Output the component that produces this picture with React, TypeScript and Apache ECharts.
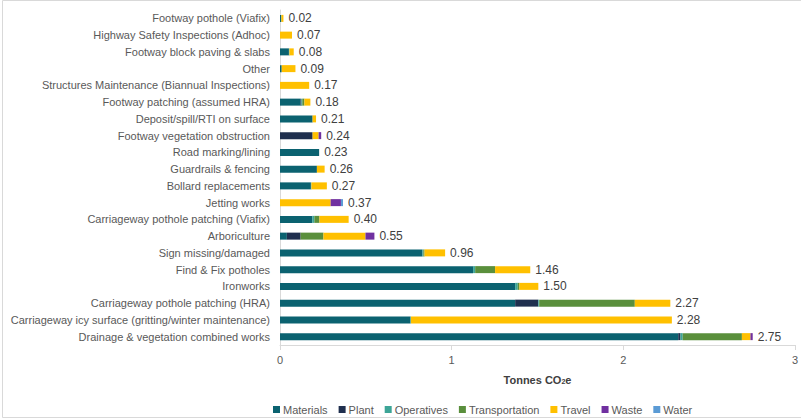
import React, { useEffect, useRef } from "react";
import * as echarts from "echarts";

const categories = [
  "Footway pothole (Viafix)",
  "Highway Safety Inspections (Adhoc)",
  "Footway block paving & slabs",
  "Other",
  "Structures Maintenance (Biannual Inspections)",
  "Footway patching (assumed HRA)",
  "Deposit/spill/RTI on surface",
  "Footway vegetation obstruction",
  "Road marking/lining",
  "Guardrails & fencing",
  "Bollard replacements",
  "Jetting works",
  "Carriageway pothole patching (Viafix)",
  "Arboriculture",
  "Sign missing/damaged",
  "Find & Fix potholes",
  "Ironworks",
  "Carriageway pothole patching (HRA)",
  "Carriageway icy surface (gritting/winter maintenance)",
  "Drainage & vegetation combined works",
];

const materials = [0.008, 0, 0.052, 0.01, 0, 0.12, 0.19, 0, 0.228, 0.215, 0.18, 0, 0.188, 0.04, 0.83, 1.125, 1.37, 1.37, 0.76, 2.32];
const plant = [0, 0, 0, 0, 0, 0.005, 0, 0.19, 0, 0, 0, 0, 0, 0.08, 0, 0, 0, 0.135, 0, 0.013];
const operatives = [0, 0, 0.003, 0, 0, 0.005, 0, 0, 0, 0, 0.003, 0, 0.012, 0, 0.005, 0.012, 0.015, 0.005, 0.003, 0.013];
const transportation = [0, 0, 0, 0, 0, 0.012, 0, 0, 0, 0, 0, 0, 0.03, 0.133, 0.007, 0.116, 0.01, 0.557, 0, 0.345];
const travel = [0.012, 0.07, 0.025, 0.08, 0.17, 0.035, 0.02, 0.035, 0, 0.045, 0.09, 0.295, 0.17, 0.245, 0.12, 0.205, 0.11, 0.207, 1.52, 0.05];
const waste = [0, 0, 0, 0, 0, 0, 0, 0.015, 0, 0, 0, 0.06, 0, 0.052, 0, 0, 0, 0, 0, 0.013];
const water = [0, 0, 0, 0, 0, 0, 0, 0, 0, 0, 0, 0.012, 0, 0, 0, 0, 0, 0, 0, 0];

const totalLabels = ["0.02", "0.07", "0.08", "0.09", "0.17", "0.18", "0.21", "0.24", "0.23", "0.26", "0.27", "0.37", "0.40", "0.55", "0.96", "1.46", "1.50", "2.27", "2.28", "2.75"];

const xTicks = [0, 1, 2, 3];

const seriesDefs = [
  { name: "Materials", data: materials, color: "#0B6270" },
  { name: "Plant", data: plant, color: "#1F2F4E" },
  { name: "Operatives", data: operatives, color: "#3DA597" },
  { name: "Transportation", data: transportation, color: "#5A8F3C" },
  { name: "Travel", data: travel, color: "#FFC000" },
  { name: "Waste", data: waste, color: "#7030A0" },
  { name: "Water", data: water, color: "#5B9BD5" },
];

const FONT = "Liberation Sans";

export default function App() {
  const ref = useRef<HTMLDivElement>(null);
  useEffect(() => {
    document.body.style.margin = "0";
    const chart = echarts.init(ref.current!, null, { renderer: "svg" });
    const series: any[] = seriesDefs.map((s, i) => ({
      name: s.name,
      type: "bar",
      stack: "total",
      data: s.data,
      barWidth: 7,
      itemStyle: { color: s.color },
      emphasis: { disabled: true },
      label:
        i === seriesDefs.length - 1
          ? {
              show: true,
              position: "right",
              distance: 5,
              color: "#404040",
              fontSize: 12,
              fontFamily: FONT,
              formatter: (p: any) => totalLabels[p.dataIndex],
            }
          : { show: false },
    }));
    chart.setOption({
      animation: false,
      textStyle: { fontFamily: FONT },
      graphic: [
        {
          type: "rect",
          shape: { x: 2.5, y: 0.5, width: 800, height: 417 },
          style: { fill: "none", stroke: "#D9D9D9", lineWidth: 1 },
          silent: true,
        },
      ],
      grid: { left: 280, right: 3, top: 10, bottom: 75, containLabel: false },
      legend: {
        left: 268,
        top: 399,
        itemWidth: 7,
        itemHeight: 7,
        itemGap: 11,
        icon: "rect",
        textStyle: { color: "#595959", fontSize: 11, fontFamily: FONT, padding: [0, 0, 0, -2] },
        data: seriesDefs.map((s) => s.name),
      },
      xAxis: {
        type: "value",
        min: xTicks[0],
        max: xTicks[xTicks.length - 1],
        interval: 1,
        splitLine: { show: false },
        axisLine: { show: true, lineStyle: { color: "#D9D9D9" } },
        axisTick: { show: true, length: 5, lineStyle: { color: "#D9D9D9" } },
        axisLabel: { color: "#595959", fontSize: 11, fontFamily: FONT, margin: 9 },
        name: "Tonnes CO{sub|2}e",
        nameLocation: "middle",
        nameGap: 29,
        nameTextStyle: {
          color: "#404040",
          fontSize: 11,
          fontWeight: "bold",
          fontFamily: FONT,
          rich: { sub: { fontSize: 7, fontWeight: "bold", color: "#404040", verticalAlign: "bottom", padding: [4, 0, 0, 0] } },
        },
      },
      yAxis: {
        type: "category",
        inverse: true,
        data: categories,
        axisLine: { show: true, lineStyle: { color: "#D9D9D9" } },
        axisTick: { show: false },
        axisLabel: { color: "#595959", fontSize: 11, fontFamily: FONT, margin: 10 },
      },
      series,
    });
    return () => chart.dispose();
  }, []);
  return <div ref={ref} style={{ width: 801, height: 420 }} />;
}
